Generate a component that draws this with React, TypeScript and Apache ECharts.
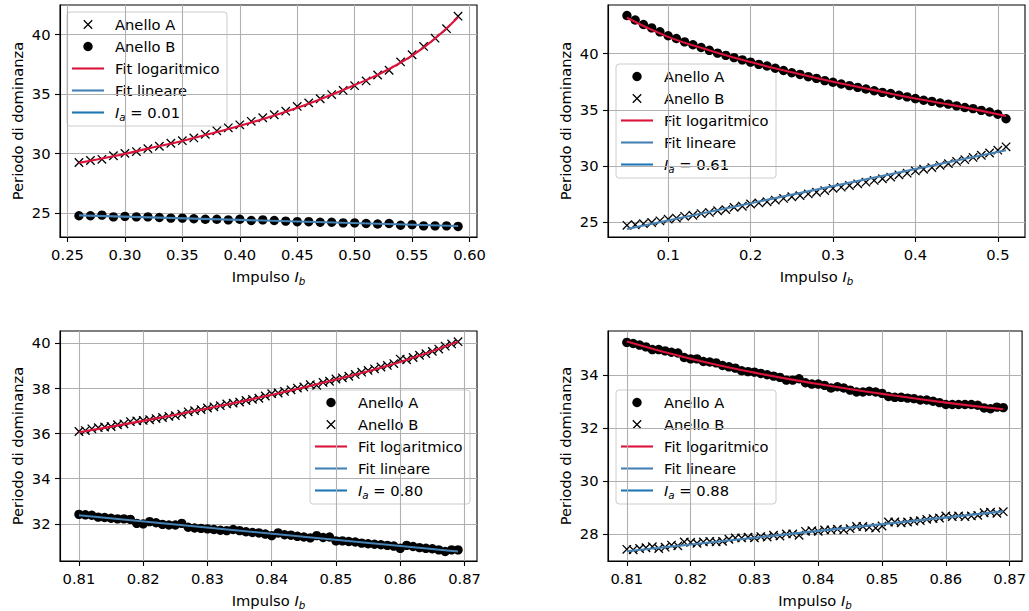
import React, { useEffect, useRef } from "react";
import * as echarts from "echarts";

// ---------- data ----------
const X1 = [0.26,0.27,0.28,0.29,0.30,0.31,0.32,0.33,0.34,0.35,0.36,0.37,0.38,0.39,0.40,0.41,0.42,0.43,0.44,0.45,0.46,0.47,0.48,0.49,0.50,0.51,0.52,0.53,0.54,0.55,0.56,0.57,0.58,0.59];
const A1 = [29.23,29.4,29.5,29.8,30.0,30.15,30.4,30.6,30.85,31.07,31.3,31.6,31.9,32.15,32.4,32.7,33.0,33.25,33.55,33.95,34.25,34.6,34.95,35.3,35.7,36.1,36.6,37.0,37.7,38.3,39.0,39.7,40.5,41.55];
const B1 = [24.75,24.75,24.8,24.65,24.7,24.65,24.65,24.6,24.55,24.55,24.5,24.45,24.45,24.4,24.45,24.35,24.4,24.35,24.3,24.25,24.25,24.2,24.2,24.15,24.15,24.1,24.05,24.1,23.95,24.0,23.9,23.9,23.9,23.85];
const LOG1_X = [0.26,0.29,0.32,0.35,0.38,0.41,0.44,0.47,0.50,0.53,0.56,0.59];
const LOG1_Y = [29.2,29.75,30.4,31.05,31.8,32.6,33.5,34.55,35.75,37.1,38.9,41.45];
const LIN1_X = [0.26,0.59];
const LIN1_Y = [24.78,23.88];

const X2 = [0.05,0.06,0.07,0.08,0.09,0.10,0.11,0.12,0.13,0.14,0.15,0.16,0.17,0.18,0.19,0.20,0.21,0.22,0.23,0.24,0.25,0.26,0.27,0.28,0.29,0.30,0.31,0.32,0.33,0.34,0.35,0.36,0.37,0.38,0.39,0.40,0.41,0.42,0.43,0.44,0.45,0.46,0.47,0.48,0.49,0.50,0.51];
const A2 = [43.4,43.0,42.6,42.3,41.95,41.6,41.35,41.05,40.8,40.55,40.3,40.05,39.85,39.65,39.45,39.25,39.05,38.9,38.7,38.5,38.3,38.15,37.95,37.8,37.6,37.45,37.3,37.15,37.0,36.85,36.7,36.55,36.45,36.3,36.15,36.0,35.85,35.75,35.6,35.5,35.35,35.2,35.1,34.95,34.8,34.6,34.2];
const B2 = [24.7,24.75,24.85,24.95,25.1,25.25,25.35,25.5,25.6,25.75,25.85,26.0,26.1,26.3,26.4,26.6,26.7,26.8,26.95,27.1,27.25,27.35,27.5,27.65,27.8,28.0,28.1,28.25,28.4,28.55,28.7,28.85,29.0,29.2,29.35,29.55,29.7,29.85,30.05,30.2,30.4,30.55,30.75,30.95,31.15,31.4,31.7];
const LOG2_X = [0.05,0.10,0.15,0.20,0.25,0.30,0.35,0.40,0.45,0.51];
const LOG2_Y = [43.2,41.5,40.3,39.25,38.35,37.5,36.75,36.0,35.35,34.45];
const LIN2_X = [0.05,0.51];
const LIN2_Y = [24.37,31.4];

const X34 = [0.810,0.811,0.812,0.813,0.814,0.815,0.816,0.817,0.818,0.819,0.820,0.821,0.822,0.823,0.824,0.825,0.826,0.827,0.828,0.829,0.830,0.831,0.832,0.833,0.834,0.835,0.836,0.837,0.838,0.839,0.840,0.841,0.842,0.843,0.844,0.845,0.846,0.847,0.848,0.849,0.850,0.851,0.852,0.853,0.854,0.855,0.856,0.857,0.858,0.859,0.860,0.861,0.862,0.863,0.864,0.865,0.866,0.867,0.868,0.869];
const A3 = [32.42,32.4,32.38,32.3,32.28,32.25,32.22,32.22,32.2,32.02,32.0,32.1,32.05,31.98,31.95,31.95,32.02,31.85,31.82,31.8,31.78,31.75,31.72,31.7,31.75,31.7,31.65,31.62,31.6,31.55,31.48,31.6,31.52,31.5,31.45,31.42,31.38,31.48,31.4,31.42,31.25,31.25,31.22,31.2,31.15,31.12,31.1,31.08,31.05,31.02,30.92,31.05,31.0,30.95,30.92,30.9,30.85,30.78,30.85,30.85];
const B3 = [36.08,36.12,36.2,36.25,36.28,36.3,36.38,36.42,36.52,36.55,36.57,36.6,36.65,36.7,36.75,36.78,36.85,36.95,37.0,37.05,37.12,37.17,37.22,37.3,37.33,37.38,37.45,37.5,37.55,37.65,37.75,37.78,37.85,37.92,38.0,38.05,38.15,38.12,38.25,38.3,38.4,38.45,38.52,38.6,38.7,38.78,38.85,38.93,39.0,39.08,39.28,39.25,39.35,39.45,39.52,39.62,39.72,39.85,39.95,40.05];
const LOG3_X = [0.81,0.82,0.83,0.84,0.85,0.86,0.869];
const LOG3_Y = [36.05,36.55,37.1,37.7,38.38,39.15,40.05];
const LIN3_X = [0.81,0.869];
const LIN3_Y = [32.38,30.78];

const A4 = [35.22,35.18,35.12,35.05,34.95,34.95,34.9,34.85,34.82,34.65,34.6,34.6,34.5,34.48,34.45,34.35,34.3,34.25,34.15,34.12,34.1,34.05,34.0,33.95,33.9,33.8,33.8,33.85,33.7,33.65,33.65,33.6,33.5,33.55,33.5,33.42,33.35,33.35,33.38,33.35,33.3,33.18,33.15,33.15,33.12,33.1,33.05,33.05,33.0,32.95,32.88,32.88,32.88,32.88,32.88,32.85,32.75,32.72,32.78,32.76];
const B4 = [27.42,27.4,27.45,27.48,27.52,27.45,27.5,27.58,27.55,27.7,27.68,27.65,27.7,27.72,27.7,27.72,27.8,27.85,27.85,27.88,27.85,27.9,27.88,27.95,27.92,28.0,28.0,27.95,28.1,28.12,28.1,28.15,28.15,28.18,28.15,28.2,28.28,28.28,28.25,28.22,28.3,28.45,28.45,28.42,28.45,28.48,28.5,28.55,28.58,28.6,28.68,28.65,28.68,28.65,28.68,28.7,28.8,28.82,28.78,28.84];
const LOG4_X = [0.81,0.82,0.83,0.84,0.85,0.86,0.869];
const LOG4_Y = [35.25,34.6,34.08,33.65,33.28,32.95,32.7];
const LIN4_X = [0.81,0.869];
const LIN4_Y = [27.35,28.85];

const X1_TICKS = [0.25,0.30,0.35,0.40,0.45,0.50,0.55,0.60];
const X2_TICKS = [0.1,0.2,0.3,0.4,0.5];
const X34_TICKS = [0.81,0.82,0.83,0.84,0.85,0.86,0.87];
const Y1_TICKS = [25,30,35,40];
const Y2_TICKS = [25,30,35,40];
const Y3_TICKS = [32,34,36,38,40];
const Y4_TICKS = [28,30,32,34];

const IA_LABELS = ["0.01","0.61","0.80","0.88"];
const LEGEND_NAMES = ["Anello A","Anello B","Fit logaritmico","Fit lineare"];

// ---------- styles ----------
const FONT = "DejaVu Sans";
const FS = 14.7;
const RED = "#dc143c";
const STEEL = "#4682b4";
const TAB_BLUE = "#1f77b4";
const CROSS = "path://M0,0L10,10M10,0L0,10";

const zip = (xs: number[], ys: number[]) => xs.map((x, i) => [x, ys[i]]);

const richStyles = {
  n: { fontSize: FS, fontFamily: FONT, color: "#000", lineHeight: 19, verticalAlign: "middle" },
  i: { fontSize: FS, fontFamily: FONT, fontStyle: "italic", color: "#000", lineHeight: 19, verticalAlign: "middle" },
  s: { fontSize: 10.3, fontFamily: FONT, fontStyle: "italic", color: "#000", lineHeight: 11.5, verticalAlign: "bottom" },
};

type Panel = {
  left: number; top: number;
  xMin: number; xMax: number; yMin: number; yMax: number;
  xTicks: number[]; yTicks: number[]; xDec: number;
  A: number[][]; B: number[][]; aMarker: "cross" | "dot"; bMarker: "cross" | "dot";
  log: number[][]; lin: number[][];
  legLeft: number; legTop: number; ia: string;
};

const W = 417, H = 232;

const PANELS: Panel[] = [
  { left: 60, top: 5, xMin: 0.2435, xMax: 0.6065, yMin: 22.96, yMax: 42.49, xTicks: X1_TICKS, yTicks: Y1_TICKS, xDec: 2,
    A: zip(X1, A1), B: zip(X1, B1), aMarker: "cross", bMarker: "dot", log: zip(LOG1_X, LOG1_Y), lin: zip(LIN1_X, LIN1_Y),
    legLeft: 67, legTop: 12, ia: IA_LABELS[0] },
  { left: 608, top: 5, xMin: 0.027, xMax: 0.533, yMin: 23.66, yMax: 44.34, xTicks: X2_TICKS, yTicks: Y2_TICKS, xDec: 1,
    A: zip(X2, A2), B: zip(X2, B2), aMarker: "dot", bMarker: "cross", log: zip(LOG2_X, LOG2_Y), lin: zip(LIN2_X, LIN2_Y),
    legLeft: 616, legTop: 64, ia: IA_LABELS[1] },
  { left: 60, top: 331, xMin: 0.80705, xMax: 0.87195, yMin: 30.36, yMax: 40.52, xTicks: X34_TICKS, yTicks: Y3_TICKS, xDec: 2,
    A: zip(X34, A3), B: zip(X34, B3), aMarker: "dot", bMarker: "cross", log: zip(LOG3_X, LOG3_Y), lin: zip(LIN3_X, LIN3_Y),
    legLeft: 310, legTop: 390, ia: IA_LABELS[2] },
  { left: 608, top: 331, xMin: 0.80705, xMax: 0.87195, yMin: 26.98, yMax: 35.65, xTicks: X34_TICKS, yTicks: Y4_TICKS, xDec: 2,
    A: zip(X34, A4), B: zip(X34, B4), aMarker: "dot", bMarker: "cross", log: zip(LOG4_X, LOG4_Y), lin: zip(LIN4_X, LIN4_Y),
    legLeft: 616, legTop: 390, ia: IA_LABELS[3] },
];

function scatterSeries(name: string, data: number[][], marker: "cross" | "dot", idx: number) {
  const base: any = {
    type: "scatter", name, data, xAxisIndex: idx, yAxisIndex: idx, silent: true, z: 2,
  };
  if (marker === "dot") {
    base.symbol = "circle";
    base.symbolSize = 9.4;
    base.itemStyle = { color: "#000", opacity: 1 };
  } else {
    base.symbol = CROSS;
    base.symbolSize = 8.4;
    base.itemStyle = { color: "rgba(0,0,0,0)", borderColor: "#000", borderWidth: 1.3, opacity: 1 };
  }
  return base;
}

function legendGraphic(p: Panel) {
  const children: any[] = [
    { type: "rect", shape: { x: 0, y: 0, width: 160, height: 114, r: 3 },
      style: { fill: "rgba(255,255,255,0.8)", stroke: "#cccccc", lineWidth: 1 } },
  ];
  const entries: any[] = [
    { kind: p.aMarker, text: LEGEND_NAMES[0] },
    { kind: p.bMarker, text: LEGEND_NAMES[1] },
    { kind: "line", color: RED, text: LEGEND_NAMES[2] },
    { kind: "line", color: STEEL, text: LEGEND_NAMES[3] },
    { kind: "line", color: TAB_BLUE, text: `{i|I}{s|a}{n| = ${p.ia}}` },
  ];
  entries.forEach((e, k) => {
    const cy = 12.5 + k * 22;
    if (e.kind === "line") {
      children.push({ type: "line", shape: { x1: 5, y1: cy, x2: 37, y2: cy }, style: { stroke: e.color, lineWidth: 2.1 } });
    } else if (e.kind === "dot") {
      children.push({ type: "circle", shape: { cx: 21, cy, r: 4.7 }, style: { fill: "#000" } });
    } else {
      const d = 4.2;
      children.push({ type: "line", shape: { x1: 21 - d, y1: cy - d, x2: 21 + d, y2: cy + d }, style: { stroke: "#000", lineWidth: 1.3 } });
      children.push({ type: "line", shape: { x1: 21 - d, y1: cy + d, x2: 21 + d, y2: cy - d }, style: { stroke: "#000", lineWidth: 1.3 } });
    }
    children.push({
      type: "text", x: 48, y: cy,
      style: {
        text: k === 4 ? e.text : `{n|${e.text}}`,
        rich: richStyles,
        fill: "#000",
        fontSize: FS, fontFamily: FONT,
        align: "left", verticalAlign: "middle",
        textAlign: "left", textVerticalAlign: "middle",
      },
    });
  });
  return { type: "group", x: p.legLeft, y: p.legTop, z: 100, silent: true, children };
}

function buildOption() {
  const grid: any[] = [], xAxis: any[] = [], yAxis: any[] = [], series: any[] = [], graphic: any[] = [];
  PANELS.forEach((p, idx) => {
    grid.push({ left: p.left, top: p.top, width: W, height: H, show: true, borderColor: "#000", borderWidth: 1.1, backgroundColor: "transparent", containLabel: false });
    const tickStyle = { color: "#000", width: 1.1 };
    xAxis.push({
      type: "value", gridIndex: idx, min: p.xMin, max: p.xMax,
      axisLine: { show: true, onZero: false, lineStyle: tickStyle },
      axisTick: { show: true, customValues: p.xTicks, length: 5, lineStyle: tickStyle },
      axisLabel: { customValues: p.xTicks, formatter: (v: number) => v.toFixed(p.xDec), margin: 9.5, fontSize: FS, fontFamily: FONT, color: "#000" },
      splitLine: { show: true, lineStyle: { color: "#b0b0b0", width: 1.1 } },
      name: "{n|Impulso }{i|I}{s|b}", nameLocation: "middle", nameGap: 30,
      nameTextStyle: { fontSize: FS, fontFamily: FONT, color: "#000", rich: richStyles },
    });
    yAxis.push({
      type: "value", gridIndex: idx, min: p.yMin, max: p.yMax,
      axisLine: { show: true, onZero: false, lineStyle: tickStyle },
      axisTick: { show: true, customValues: p.yTicks, length: 5, lineStyle: tickStyle },
      axisLabel: { customValues: p.yTicks, formatter: (v: number) => String(Math.round(v)), margin: 9.5, fontSize: FS, fontFamily: FONT, color: "#000" },
      splitLine: { show: true, lineStyle: { color: "#b0b0b0", width: 1.1 } },
      name: "Periodo di dominanza", nameLocation: "middle", nameGap: 35, nameRotate: 90,
      nameTextStyle: { fontSize: FS, fontFamily: FONT, color: "#000" },
    });
    series.push(scatterSeries("Anello A", p.A, p.aMarker, idx));
    series.push(scatterSeries("Anello B", p.B, p.bMarker, idx));
    series.push({ type: "line", name: "Fit logaritmico", data: p.log, xAxisIndex: idx, yAxisIndex: idx, smooth: true, symbol: "none", silent: true, z: 3, lineStyle: { color: RED, width: 2.1 } });
    series.push({ type: "line", name: "Fit lineare", data: p.lin, xAxisIndex: idx, yAxisIndex: idx, symbol: "none", silent: true, z: 3, lineStyle: { color: STEEL, width: 2.1 } });
    graphic.push(legendGraphic(p));
  });
  return { animation: false, backgroundColor: "#fff", grid, xAxis, yAxis, series, graphic };
}

export default function App() {
  const ref = useRef<HTMLDivElement>(null);
  useEffect(() => {
    document.body.style.margin = "0";
    if (!ref.current) return;
    const chart = echarts.init(ref.current, undefined, { renderer: "svg" });
    chart.setOption(buildOption() as any);
    return () => chart.dispose();
  }, []);
  return <div ref={ref} style={{ width: 1029, height: 611 }} />;
}
